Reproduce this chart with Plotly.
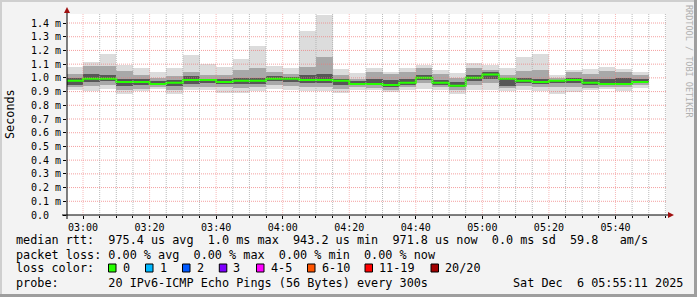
import pandas as pd
import plotly.graph_objects as go

# ---------------- data ----------------
WIN_START = pd.Timestamp("2025-12-06 02:55:11")
WIN_END = pd.Timestamp("2025-12-06 05:55:11")
bin_end = list(pd.date_range("2025-12-06 03:00", "2025-12-06 05:50", freq="5min"))  # 35 RRD steps

# values in milliseconds (axis shows "m" = milli-seconds)
median_ms = [0.979, 0.994, 0.994, 0.970, 0.970, 0.955, 0.965, 0.985, 0.985, 0.970,
             0.979, 0.979, 0.993, 0.993, 0.985, 0.985, 0.979, 0.956, 0.956, 0.948,
             0.965, 1.000, 0.965, 0.942, 1.000, 1.024, 0.994, 0.979, 0.970, 0.979,
             0.985, 0.965, 0.956, 0.956, 0.970]
max_ms = [1.080, 1.115, 1.175, 1.097, 1.071, 1.042, 1.071, 1.168, 1.100, 1.080,
          1.136, 1.232, 1.085, 1.071, 1.342, 1.458, 1.063, 1.032, 1.071, 1.046,
          1.071, 1.097, 1.056, 1.036, 1.109, 1.097, 1.073, 1.153, 1.175, 1.024,
          1.056, 1.066, 1.080, 1.063, 1.041]
hi2_ms = [1.030, 1.085, 1.090, 1.050, 1.020, 1.000, 1.010, 1.040, 1.020, 1.020,
          1.060, 1.070, 1.040, 1.030, 1.080, 1.150, 1.020, 0.995, 1.040, 1.030,
          1.040, 1.070, 1.030, 1.000, 1.070, 1.060, 1.020, 1.050, 1.060, 1.000,
          1.040, 1.030, 1.050, 1.040, 1.020]
hi1_ms = [1.000, 1.030, 1.020, 0.990, 0.990, 0.975, 0.985, 1.010, 0.995, 0.990,
          1.000, 1.000, 1.010, 1.005, 1.020, 1.030, 0.995, 0.975, 0.990, 0.985,
          0.990, 1.020, 0.985, 0.970, 1.020, 1.040, 1.000, 1.000, 0.990, 0.985,
          1.000, 0.990, 0.990, 1.000, 0.990]
lo1_ms = [0.950, 0.970, 0.975, 0.940, 0.950, 0.945, 0.940, 0.955, 0.960, 0.955,
          0.955, 0.955, 0.975, 0.970, 0.960, 0.960, 0.950, 0.945, 0.945, 0.935,
          0.950, 0.985, 0.950, 0.930, 0.980, 0.990, 0.940, 0.960, 0.955, 0.960,
          0.960, 0.945, 0.945, 0.950, 0.960]
lo2_ms = [0.930, 0.940, 0.950, 0.910, 0.920, 0.930, 0.910, 0.930, 0.935, 0.930,
          0.925, 0.930, 0.950, 0.940, 0.930, 0.930, 0.920, 0.930, 0.925, 0.915,
          0.930, 0.960, 0.930, 0.910, 0.950, 0.960, 0.925, 0.940, 0.935, 0.930,
          0.935, 0.925, 0.930, 0.930, 0.945]
min_ms = [0.910, 0.905, 0.917, 0.886, 0.903, 0.917, 0.886, 0.910, 0.910, 0.893,
          0.893, 0.905, 0.917, 0.910, 0.905, 0.905, 0.890, 0.910, 0.910, 0.898,
          0.910, 0.922, 0.910, 0.886, 0.910, 0.910, 0.905, 0.910, 0.905, 0.886,
          0.898, 0.910, 0.922, 0.905, 0.929]

y_tickvals = [0.0, 0.1, 0.2, 0.3, 0.4, 0.5, 0.6, 0.7, 0.8, 0.9, 1.0, 1.1, 1.2, 1.3, 1.4]
y_ticktext = ["0.0  ", "0.1 m", "0.2 m", "0.3 m", "0.4 m", "0.5 m", "0.6 m", "0.7 m",
              "0.8 m", "0.9 m", "1.0 m", "1.1 m", "1.2 m", "1.3 m", "1.4 m"]

loss_labels = ["0", "1", "2", "3", "4-5", "6-10", "11-19", "20/20"]
loss_colors = ["#26ff00", "#00b8ff", "#0059ff", "#7e00ff", "#ff00ff", "#ff5500", "#ff0000", "#a10000"]

legend_line1 = "median rtt:  975.4 us avg  1.0 ms max  943.2 us min  971.8 us now  0.0 ms sd  59.8   am/s"
legend_line2 = "packet loss: 0.00 % avg  0.00 % max  0.00 % min  0.00 % now"
legend_line3 = "loss color:"
legend_line4 = "probe:       20 IPv6-ICMP Echo Pings (56 Bytes) every 300s"
stamp = "Sat Dec  6 05:55:11 2025"
y_title = "Seconds"
side_text = "RRDTOOL / TOBI OETIKER"

# ---------------- geometry helpers (pixels -> paper) ----------------
W, H = 697, 297
L, R, T, B = 67, 666, 14, 215
PW, PH = R - L, B - T
YMAX = 1.4657


def px(x):
    return (x - L) / PW


def py(y):
    return (B - y) / PH


MONO = "DejaVu Sans Mono"


def nb(s):
    return s.replace(" ", "\u00a0")


# ---------------- traces ----------------
step = pd.Timedelta(minutes=5)
bin_start = [max(e - step, WIN_START) for e in bin_end]
widths = [(e - s).total_seconds() * 1000 for s, e in zip(bin_start, bin_end)]

fig = go.Figure()
bands = [(min_ms, max_ms, "#dcdcdc"), (lo2_ms, hi2_ms, "#a8a8a8"), (lo1_ms, hi1_ms, "#575757")]
for lo, hi, col in bands:
    fig.add_trace(go.Bar(
        x=bin_start, base=lo, y=[h - l for h, l in zip(hi, lo)],
        width=widths, offset=0, marker=dict(color=col, line=dict(width=0)),
        hoverinfo="skip"))

fig.add_trace(go.Scatter(
    x=bin_start + [bin_end[-1]], y=median_ms + [median_ms[-1]],
    mode="lines", line=dict(color="#26ff00", width=2, shape="hv"), hoverinfo="skip"))

# ---------------- shapes ----------------
shapes = []
red_grid = "rgba(240,120,120,0.7)"
red_grid_v = "rgba(240,120,120,0.5)"
gray_grid = "rgba(170,170,170,0.8)"
for v in y_tickvals[1:]:
    shapes.append(dict(type="line", xref="paper", yref="y", x0=0, x1=1, y0=v, y1=v,
                       line=dict(color=red_grid, width=1, dash="1px,1px"), layer="above"))
t = pd.Timestamp("2025-12-06 03:00")
while t < WIN_END:
    major = t.minute % 20 == 0
    shapes.append(dict(type="line", xref="x", yref="paper", x0=t, x1=t, y0=0, y1=1,
                       line=dict(color=red_grid_v if major else gray_grid, width=1, dash="1px,1px"),
                       layer="above"))
    t += step

# axes lines and arrows
shapes.append(dict(type="line", xref="paper", yref="paper", x0=px(62), x1=px(669), y0=py(215), y1=py(215),
                   line=dict(color="black", width=1), layer="above"))
shapes.append(dict(type="line", xref="paper", yref="paper", x0=px(67), x1=px(67), y0=py(219), y1=py(11),
                   line=dict(color="black", width=1), layer="above"))
arrow_col = "#a01010"
shapes.append(dict(type="path", xref="paper", yref="paper",
                   path=f"M {px(668)},{py(212)} L {px(674)},{py(215)} L {px(668)},{py(218)} Z",
                   fillcolor=arrow_col, line=dict(color=arrow_col, width=0), layer="above"))
shapes.append(dict(type="path", xref="paper", yref="paper",
                   path=f"M {px(64)},{py(13)} L {px(67)},{py(7)} L {px(70)},{py(13)} Z",
                   fillcolor=arrow_col, line=dict(color=arrow_col, width=0), layer="above"))

# frame (rrdtool shade)
shapes += [
    dict(type="rect", xref="paper", yref="paper", x0=px(0), x1=px(W), y0=py(0), y1=py(2),
         fillcolor="#cfcfcf", line=dict(width=0), layer="below"),
    dict(type="rect", xref="paper", yref="paper", x0=px(0), x1=px(2), y0=py(0), y1=py(H),
         fillcolor="#cfcfcf", line=dict(width=0), layer="below"),
    dict(type="rect", xref="paper", yref="paper", x0=px(0), x1=px(W), y0=py(H - 3), y1=py(H),
         fillcolor="#9e9e9e", line=dict(width=0), layer="below"),
    dict(type="rect", xref="paper", yref="paper", x0=px(W - 3), x1=px(W), y0=py(0), y1=py(H),
         fillcolor="#9e9e9e", line=dict(width=0), layer="below"),
]

# loss color boxes
box_x = [108.5, 145.5, 182.5, 219.3, 256.5, 307.5, 365, 431]
annotations = []
for bx, lab, col in zip(box_x, loss_labels, loss_colors):
    shapes.append(dict(type="rect", xref="paper", yref="paper", x0=px(bx), x1=px(bx + 7.5),
                       y0=py(264), y1=py(272), fillcolor=col, line=dict(color="black", width=1),
                       layer="above"))
    annotations.append(dict(text=nb(lab), xref="paper", yref="paper", x=px(bx + 14 - 2), y=py(268.3),
                            xanchor="left", yanchor="middle", showarrow=False,
                            font=dict(family=MONO, size=11.8, color="black")))

# ---------------- text ----------------
def txt(s, x, y, **kw):
    d = dict(text=nb(s), xref="paper", yref="paper", x=px(x - 2), y=py(y), xanchor="left",
             yanchor="middle", showarrow=False, font=dict(family=MONO, size=11.8, color="black"))
    d.update(kw)
    return d


annotations += [
    txt(legend_line1, 16, 240.3),
    txt(legend_line2, 16, 254.6),
    txt(legend_line3, 16, 268.3),
    txt(legend_line4, 16, 282.6),
    txt(stamp, 513.3, 282.6),
    dict(text=y_title, xref="paper", yref="paper", x=px(10), y=py(114), textangle=-90,
         xanchor="center", yanchor="middle", showarrow=False,
         font=dict(family=MONO, size=11.8, color="black")),
    dict(text=nb(side_text), xref="paper", yref="paper", x=px(689), y=py(61), textangle=90,
         xanchor="center", yanchor="middle", showarrow=False,
         font=dict(family=MONO, size=8.5, color="#b0b0b0")),
]

fig.update_layout(
    width=W, height=H,
    margin=dict(l=L, r=W - R, t=T, b=H - B, pad=0),
    paper_bgcolor="#f3f3f3", plot_bgcolor="white",
    showlegend=False, barmode="overlay", bargap=0,
    shapes=shapes, annotations=annotations,
    xaxis=dict(type="date", range=[WIN_START, WIN_END], tickmode="linear",
               tick0="2025-12-06 03:00", dtick=1200000, tickformat="%H:%M",
               showgrid=False, zeroline=False, showline=False,
               ticks="outside", ticklen=3, tickcolor="black",
               minor=dict(tick0="2025-12-06 03:00", dtick=300000, ticks="outside", ticklen=2,
                          tickcolor="black", showgrid=False),
               tickfont=dict(family=MONO, size=10, color="black"), fixedrange=True),
    yaxis=dict(range=[0, YMAX], tickmode="array", tickvals=y_tickvals, ticktext=[nb(s) for s in y_ticktext],
               showgrid=False, zeroline=False, showline=False,
               ticks="outside", ticklen=3, tickcolor="black",
               tickfont=dict(family=MONO, size=10, color="black"), fixedrange=True),
)

fig.write_html("out.html")
